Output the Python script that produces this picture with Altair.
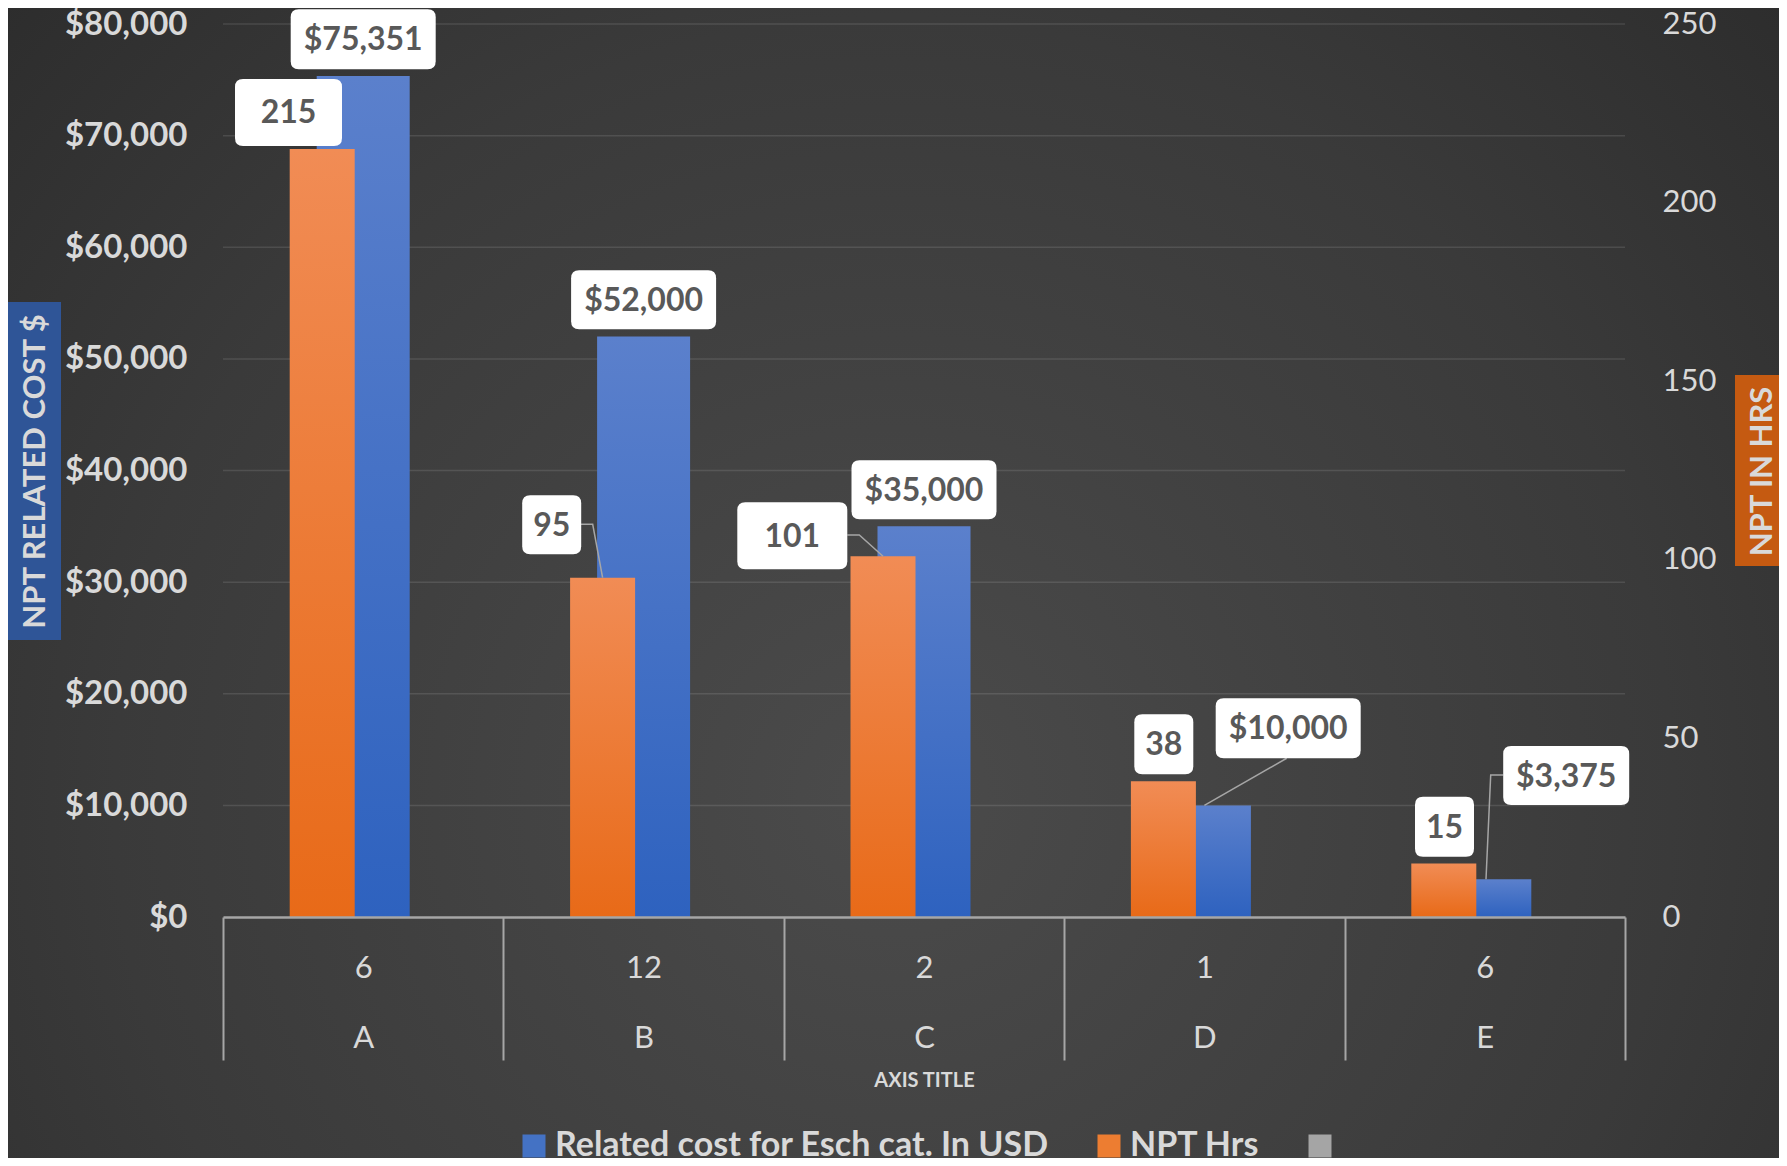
import altair as alt
import pandas as pd

# ---------------- data ----------------
letters = ["A", "B", "C", "D", "E"]
counts = [6, 12, 2, 1, 6]
cost_usd = [75351, 52000, 35000, 10000, 3375]
npt_hrs = [215, 95, 101, 38, 15]
cost_ticks = [0, 10000, 20000, 30000, 40000, 50000, 60000, 70000, 80000]
hrs_ticks = [0, 50, 100, 150, 200, 250]
series_names = ["Related cost for Esch cat. In USD", "NPT Hrs", "Series3"]
series_colors = ["#4472c4", "#ed7d31", "#a5a5a5"]

# ---------------- label layout (pixel offsets from bar top, box sizes) ----------------
cost_lab_dx = [0, 0, 0, 83.8, 81.4]
cost_lab_dy = [-36.7, -36.9, -36.6, -77.1, -103.8]
cost_lab_w = [145, 145, 145, 145, 126]
cost_lab_h = [60, 59, 59, 60, 59]
cost_leaders = [None, None, None,
                [(82.3, -47.1), (0, 0)],
                [(18.5, -104.3), (5.9, -104.3), (1.2, 0)]]
hrs_lab_dx = [-33.7, -50.9, -90.7, 0.4, 0.7]
hrs_lab_dy = [-36.6, -53.0, -20.5, -37.1, -36.7]
hrs_lab_w = [107, 59, 110, 59, 59]
hrs_lab_h = [67, 59, 67, 60, 60]
hrs_leaders = [None,
               [(-21.6, -53.4), (-9.9, -53.4), (0, 0)],
               [(-35.7, -21.2), (-23.7, -21.2), (0, 0)],
               None, None]

W, H = 1402, 893
PAD = {"left": 215, "top": 16, "right": 154, "bottom": 241}
FONT = "Lato"
TXT = "#d9d9d9"
BLUE_W, ORANGE_W, ORANGE_OFF = 93, 65, -41

cats = [f"{c}|{l}" for c, l in zip(counts, letters)]

x_enc = alt.X(
    "cat:N",
    scale=alt.Scale(domain=cats, paddingInner=0, paddingOuter=0),
    axis=alt.Axis(
        title="AXIS TITLE", titleFont=FONT, titleFontSize=20, titleFontWeight="bold",
        titleColor=TXT, titleX=W / 2, titleY=163, titleBaseline="middle",
        labelExpr="isString(datum.value) ? split(datum.value, '|') : ''",
        labelFont=FONT, labelFontSize=31,
        labelColor=TXT, labelLineHeight=70, labelBaseline="middle", labelPadding=-91.5,
        labelAngle=0, tickBand="extent", tickSize=143, tickColor="#a6a6a6", tickWidth=2,
        domainColor="#a6a6a6", domainWidth=2.5, grid=False, zindex=1,
    ),
)

cost_axis = alt.Axis(
    orient="left", values=cost_ticks, format="$,.0f", labelFont=FONT, labelFontSize=33,
    labelFontWeight="bold", labelColor=TXT, labelPadding=36, ticks=False, domain=False,
    grid=False, zindex=1, title="NPT RELATED COST $", titleFont=FONT, titleFontSize=31,
    titleFontWeight="bold", titleColor=TXT, titleAngle=270, titleX=-188, titleY=447,
    titleAlign="center", titleBaseline="middle",
)
hrs_axis = alt.Axis(
    orient="right", values=hrs_ticks, labelFont=FONT, labelFontSize=31, labelColor=TXT,
    labelPadding=37, ticks=False, domain=False, grid=False, zindex=1,
    title="NPT IN HRS", titleFont=FONT, titleFontSize=31, titleFontWeight="bold",
    titleColor=TXT, titleAngle=270, titleX=137, titleY=447, titleAlign="center",
    titleBaseline="middle",
)
cost_scale = alt.Scale(domain=[0, 80000], nice=False)
hrs_scale = alt.Scale(domain=[0, 250], nice=False)

blue_grad = {"gradient": "linear", "x1": 0, "y1": 0, "x2": 0, "y2": 1,
             "stops": [{"offset": 0, "color": "#5b80cc"}, {"offset": 1, "color": "#2e62bf"}]}
orange_grad = {"gradient": "linear", "x1": 0, "y1": 0, "x2": 0, "y2": 1,
               "stops": [{"offset": 0, "color": "#f18c55"}, {"offset": 1, "color": "#e86a18"}]}
bg_grad = {"gradient": "radial", "x1": 0.5, "y1": 0.62, "x2": 0.5, "y2": 0.62, "r1": 0, "r2": 0.8,
           "stops": [{"offset": 0, "color": "#4b4b4b"}, {"offset": 0.55, "color": "#3a3a3a"},
                     {"offset": 1, "color": "#262626"}]}

one = pd.DataFrame({"k": [0]})

# background
bg = alt.Chart(one).mark_rect(color=bg_grad).encode(
    x=alt.value(-PAD["left"]), x2=alt.value(W + PAD["right"]),
    y=alt.value(-PAD["top"]), y2=alt.value(H + PAD["bottom"]))

# axis title boxes
left_box = alt.Chart(one).mark_rect(color="#2f5597").encode(
    x=alt.value(-215), x2=alt.value(-162), y=alt.value(278), y2=alt.value(616))
right_box = alt.Chart(one).mark_rect(color="#c55a11").encode(
    x=alt.value(1512), x2=alt.value(W + PAD["right"]), y=alt.value(351), y2=alt.value(542))

df_cost = pd.DataFrame({"cat": cats, "value": cost_usd})
df_hrs = pd.DataFrame({"cat": cats, "value": npt_hrs})
df_grid = pd.DataFrame({"value": cost_ticks[1:]})

grid = alt.Chart(df_grid).mark_rule(color="white", opacity=0.11, strokeWidth=1.5).encode(
    y=alt.Y("value:Q", scale=cost_scale, axis=cost_axis), x=alt.value(0), x2=alt.value(W))
blue_bars = alt.Chart(df_cost).mark_bar(width=BLUE_W, color=blue_grad).encode(
    x=x_enc, y=alt.Y("value:Q", scale=cost_scale, axis=cost_axis))
cost_group = alt.layer(grid, blue_bars)

orange_bars = alt.Chart(df_hrs).mark_bar(width=ORANGE_W, xOffset=ORANGE_OFF, color=orange_grad).encode(
    x=x_enc, y=alt.Y("value:Q", scale=hrs_scale, axis=hrs_axis))


def rrect(w, h, r=8):
    x0, x1, y0, y1 = -w / 2, w / 2, -h / 2, h / 2
    return (f"M{x0 + r},{y0} L{x1 - r},{y0} Q{x1},{y0} {x1},{y0 + r} L{x1},{y1 - r} "
            f"Q{x1},{y1} {x1 - r},{y1} L{x0 + r},{y1} Q{x0},{y1} {x0},{y1 - r} "
            f"L{x0},{y0 + r} Q{x0},{y0} {x0 + r},{y0} Z")


def label_layers(cat, value, fmt, scale, off, dx, dy, w, h, leader):
    df = pd.DataFrame({"cat": [cat], "value": [value]})
    y_enc = alt.Y("value:Q", scale=scale, axis=None)
    out = []
    if leader:
        path = "M" + " L".join(f"{px},{py}" for px, py in leader)
        out.append(alt.Chart(df).mark_point(shape=path, size=4, filled=False, color="#a6a6a6",
                                            strokeWidth=1.5, opacity=1, xOffset=off)
                   .encode(x=x_enc, y=y_enc))
    out.append(alt.Chart(df).mark_point(shape=rrect(w, h), size=4, filled=True, color="white",
                                        opacity=1, xOffset=off + dx, yOffset=dy)
               .encode(x=x_enc, y=y_enc))
    out.append(alt.Chart(df).mark_text(font=FONT, fontSize=32, fontWeight="bold", color="#595959",
                                       baseline="middle", align="center",
                                       xOffset=off + dx, yOffset=dy + 1)
               .encode(x=x_enc, y=y_enc, text=alt.Text("value:Q", format=fmt)))
    return out


cost_labels = []
for i in range(5):
    cost_labels += label_layers(cats[i], cost_usd[i], "$,.0f", cost_scale, 0, cost_lab_dx[i],
                                cost_lab_dy[i], cost_lab_w[i], cost_lab_h[i], cost_leaders[i])
hrs_labels = []
for i in range(5):
    hrs_labels += label_layers(cats[i], npt_hrs[i], "d", hrs_scale, ORANGE_OFF, hrs_lab_dx[i],
                               hrs_lab_dy[i], hrs_lab_w[i], hrs_lab_h[i], hrs_leaders[i])

legend_layer = alt.Chart(pd.DataFrame({"series": series_names})).mark_square(opacity=0, size=1).encode(
    color=alt.Color("series:N", scale=alt.Scale(domain=series_names, range=series_colors),
                    legend=alt.Legend(orient="none", legendX=294, legendY=1105, direction="horizontal",
                                      title=None, symbolType="square", symbolSize=529,
                                      symbolOpacity=1, symbolStrokeWidth=0, labelFont=FONT,
                                      labelFontSize=34, labelFontWeight="bold", labelColor=TXT,
                                      labelLimit=1000, labelOffset=4, columnPadding=43, padding=0,
                                      labelExpr="datum.label == 'Series3' ? '' : datum.label")))

chart = alt.layer(
    bg, left_box, right_box, cost_group, orange_bars,
    alt.layer(*cost_labels), alt.layer(*hrs_labels), legend_layer,
).resolve_scale(y="independent").properties(
    width=W, height=H, padding=PAD, autosize=alt.AutoSizeParams(type="none"),
    background="#2d2d2d",
).configure_view(stroke=None)

chart.save("out.html", embed_options={"renderer": "svg", "actions": False})
